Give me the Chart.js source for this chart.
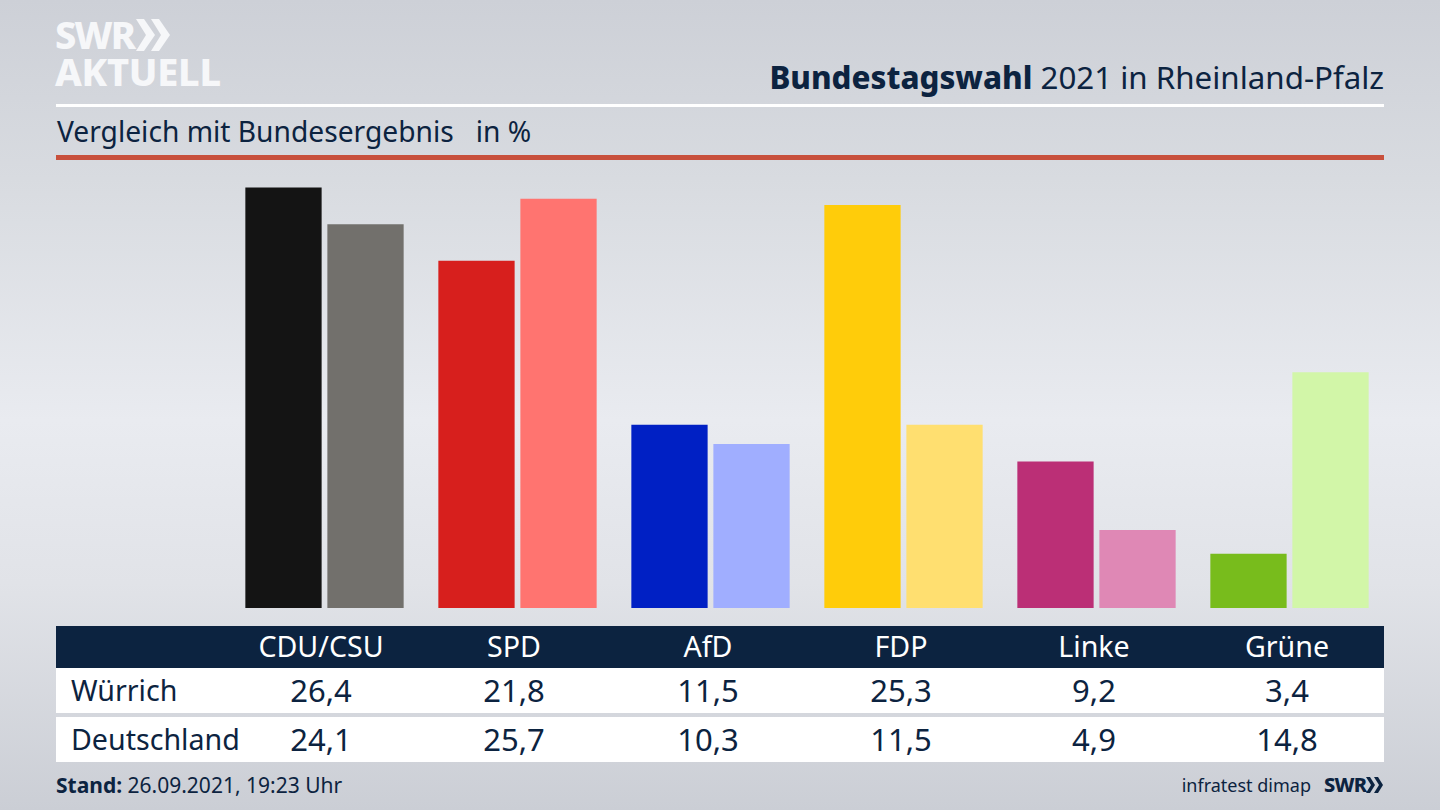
<!DOCTYPE html>
<html lang="de">
<head>
<meta charset="utf-8">
<title>Bundestagswahl 2021 in Rheinland-Pfalz</title>
<script src="https://cdn.jsdelivr.net/npm/chart.js@4"></script>
<style>
  html, body { margin: 0; padding: 0; }
  body {
    width: 1440px; height: 810px; overflow: hidden; position: relative;
    font-family: "Noto Sans", sans-serif; color: #0c2340;
    background: linear-gradient(180deg, #cdd0d7 0%, #d8dbe0 22%, #e9ebf0 52%, #e1e3e8 72%, #cbced5 100%);
  }
  .abs { position: absolute; white-space: nowrap; }
  #chartBox { position: absolute; left: 228px; top: 178px; width: 1158px; height: 430px; }
  .logo { color: #f6f7f9; font-weight: 800; line-height: 1; }
  .cell { position: absolute; width: 180px; text-align: center; white-space: nowrap; transform: translateX(-90px); }
</style>
</head>
<body>
<div class="abs logo" style="left:55px;top:15px;font-size:38px;letter-spacing:-1.8px">SWR</div>
<svg class="abs" style="left:136px;top:18px" width="36" height="36" viewBox="0 0 36 36">
  <polygon points="0,1 8,1 19,17 8,33 0,33 10,17" fill="#f6f7f9"/>
  <polygon points="15,1 23,1 34,17 23,33 15,33 25,17" fill="#f6f7f9"/>
</svg>
<div class="abs logo" style="left:55px;top:52px;font-size:38px;letter-spacing:-0.3px">AKTUELL</div>

<div class="abs" style="right:56px;top:56px;font-size:31.3px;line-height:42px"><b style="font-weight:800">Bundestagswahl</b> 2021 in Rheinland-Pfalz</div>
<div class="abs" style="left:56px;top:104px;width:1328px;height:3px;background:#fff"></div>
<div class="abs" style="left:57px;top:111px;font-size:28.2px;line-height:40px;white-space:pre">Vergleich mit Bundesergebnis   in %</div>
<div class="abs" style="left:56px;top:155px;width:1328px;height:5px;background:#c8503c"></div>

<div id="chartBox"><canvas id="voteChart"></canvas></div>

<div class="abs" style="left:56px;top:626px;width:1328px;height:42px;background:#0c2340"></div>
<div class="abs" style="left:56px;top:668px;width:1328px;height:45px;background:#fff"></div>
<div class="abs" style="left:56px;top:717px;width:1328px;height:45px;background:#fff"></div>
<div id="table"></div>

<div class="abs" style="left:56px;top:770px;font-size:21px;line-height:30px"><b>Stand:</b> 26.09.2021, 19:23 Uhr</div>
<div class="abs" style="right:129px;top:771px;font-size:18px;line-height:28px">infratest dimap</div>
<div class="abs" style="left:1324px;top:773px;font-size:20px;line-height:24px;font-weight:800;letter-spacing:-0.8px">SWR</div>
<svg class="abs" style="left:1366px;top:777px" width="18" height="16" viewBox="0 0 18 16">
  <polygon points="0,0 4,0 9,8 4,16 0,16 5,8" fill="#0c2340"/>
  <polygon points="8,0 12,0 17,8 12,16 8,16 13,8" fill="#0c2340"/>
</svg>

<script>
// Parteien und Werte
const parties = ['CDU/CSU', 'SPD', 'AfD', 'FDP', 'Linke', 'Grüne'];
const wuerrich = [26.4, 21.8, 11.5, 25.3, 9.2, 3.4];
const deutschland = [24.1, 25.7, 10.3, 11.5, 4.9, 14.8];
const wuerrichColors = ['#141414', '#d71f1d', '#0020c4', '#ffcc0a', '#bb2f76', '#78bc1c'];
const deutschlandColors = ['#72706c', '#ff7470', '#a0aeff', '#ffdf70', '#df88b5', '#d2f6a8'];

// Bars
new Chart(document.getElementById('voteChart'), {
  type: 'bar',
  data: {
    labels: parties,
    datasets: [
      { label: 'Würrich', data: wuerrich, backgroundColor: wuerrichColors },
      { label: 'Deutschland', data: deutschland, backgroundColor: deutschlandColors }
    ]
  },
  options: {
    responsive: true,
    maintainAspectRatio: false,
    animation: false,
    categoryPercentage: 0.85,
    barPercentage: 0.93,
    plugins: { legend: { display: false }, tooltip: { enabled: false } },
    scales: {
      x: { display: false },
      y: { display: false, min: 0, max: 27 }
    }
  }
});

// Table under the chart
const table = document.getElementById('table');
const colCenters = [321, 514, 708, 901, 1094, 1287];
const fmt = v => v.toFixed(1).replace('.', ',');

function addCell(text, x, top, color, size) {
  const el = document.createElement('div');
  el.className = 'cell';
  el.textContent = text;
  el.style.cssText = `left:${x}px;top:${top}px;font-size:${size}px;line-height:42px;color:${color}`;
  table.appendChild(el);
}
function addRowLabel(text, top) {
  const el = document.createElement('div');
  el.className = 'abs';
  el.textContent = text;
  el.style.cssText = `left:71px;top:${top}px;font-size:28.6px;line-height:42px`;
  table.appendChild(el);
}

parties.forEach((p, i) => {
  addCell(p, colCenters[i], 625, '#fff', 28.6);
  addCell(fmt(wuerrich[i]), colCenters[i], 669, '#0c2340', 31);
  addCell(fmt(deutschland[i]), colCenters[i], 718, '#0c2340', 31);
});
addRowLabel('Würrich', 669);
addRowLabel('Deutschland', 718);
</script>
</body>
</html>
